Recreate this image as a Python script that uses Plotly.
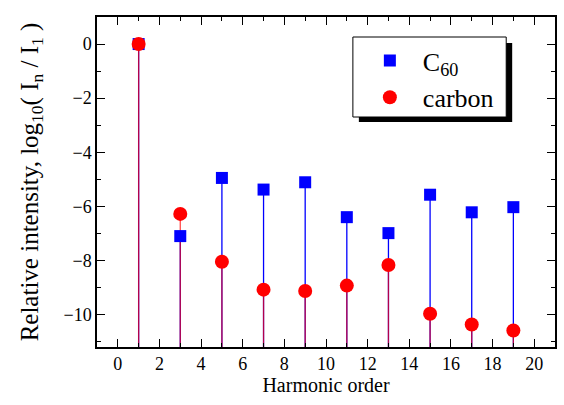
import plotly.graph_objects as go

# Harmonic orders and relative intensities, log10(I_n / I_1)
orders = [1, 3, 5, 7, 9, 11, 13, 15, 17, 19]
c60 = [0.0, -7.10, -4.95, -5.38, -5.11, -6.40, -6.99, -5.57, -6.22, -6.03]
carbon = [0.0, -6.28, -8.05, -9.08, -9.13, -8.93, -8.17, -9.97, -10.37, -10.59]

x_range = [-1, 21]
y_range = [-11.2, 1]
base = y_range[0]

FONT = "Times New Roman, Times, serif"
BLUE = "#0000ff"
RED = "#ff0000"

# plot area in pixels: left, right, top, bottom
L, R, T, B = 97, 557, 17, 347


def px_x(p):
    return (p - L) / (R - L)


def px_y(p):
    return 1 - (p - T) / (B - T)


def stems(xs, ys):
    sx, sy = [], []
    for x, y in zip(xs, ys):
        sx += [x, x, None]
        sy += [y, base, None]
    return sx, sy


fig = go.Figure()

bx, by = stems(orders, c60)
fig.add_trace(go.Scatter(x=bx, y=by, mode="lines", line=dict(color=BLUE, width=1.3),
                         showlegend=False, hoverinfo="skip"))
rx, ry = stems(orders, carbon)
fig.add_trace(go.Scatter(x=rx, y=ry, mode="lines", line=dict(color=RED, width=1.3),
                         opacity=0.7, showlegend=False, hoverinfo="skip"))

fig.add_trace(go.Scatter(x=orders, y=c60, mode="markers", name="C<sub>60</sub>",
                         marker=dict(symbol="square", size=12, color=BLUE)))
fig.add_trace(go.Scatter(x=orders, y=carbon, mode="markers", name="carbon",
                         marker=dict(symbol="circle", size=14, color=RED)))

axis_common = dict(
    showline=True, linecolor="black", linewidth=1.5, mirror="ticks",
    ticks="inside", ticklen=8, tickwidth=1.3, tickcolor="black",
    showgrid=False, zeroline=False,
    tickfont=dict(family=FONT, size=18, color="black"),
)

fig.update_xaxes(range=x_range, tickmode="linear", tick0=0, dtick=2,
                 minor=dict(ticks="inside", ticklen=4, dtick=1, tick0=0, tickcolor="black"),
                 title=dict(text="Harmonic order", font=dict(family=FONT, size=20, color="black"),
                            standoff=2),
                 **axis_common)
fig.update_yaxes(range=y_range, tickmode="linear", tick0=0, dtick=2,
                 minor=dict(ticks="inside", ticklen=4, dtick=1, tick0=0, tickcolor="black"),
                 title=dict(text="Relative intensity, log<sub>10</sub>( I<sub>n</sub> / I<sub>1</sub> )",
                            font=dict(family=FONT, size=25, color="black"), standoff=18),
                 **axis_common)

# legend frame with a drop shadow
fig.add_shape(type="rect", xref="paper", yref="paper",
              x0=px_x(360), x1=px_x(514), y0=px_y(122), y1=px_y(43),
              fillcolor="black", line=dict(width=0), layer="above")
fig.add_shape(type="rect", xref="paper", yref="paper",
              x0=px_x(354), x1=px_x(508), y0=px_y(117), y1=px_y(37),
              fillcolor="white", line=dict(color="black", width=1), layer="above")

fig.update_layout(
    width=564, height=405,
    margin=dict(l=L, r=564 - R, t=T, b=405 - B),
    plot_bgcolor="white", paper_bgcolor="white",
    font=dict(family=FONT, color="black"),
    legend=dict(x=px_x(358), y=px_y(37), xanchor="left", yanchor="top",
                bgcolor="rgba(0,0,0,0)", borderwidth=0,
                font=dict(family=FONT, size=26, color="black"),
                itemwidth=56, tracegroupgap=0),
)

fig.write_html("out.html")
